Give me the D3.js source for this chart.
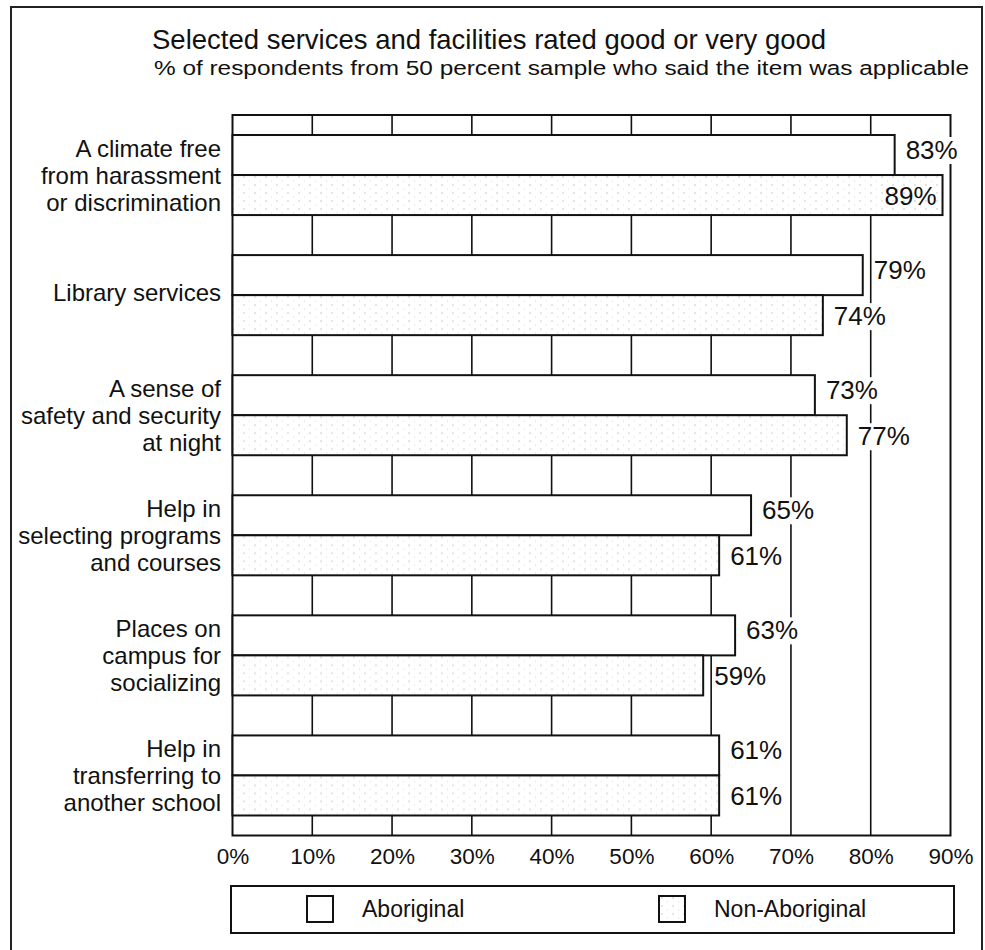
<!doctype html>
<html>
<head>
<meta charset="utf-8">
<title>Services and facilities</title>
<script src="https://cdn.jsdelivr.net/npm/d3@7"></script>
<style>
body { margin: 0; background: #fff; }
svg { display: block; font-family: "Liberation Sans", Arial, sans-serif; }
</style>
</head>
<body>
<div id="chart"></div>
<script>
// values
var categories = [
  "A climate free|from harassment|or discrimination",
  "Library services",
  "A sense of|safety and security|at night",
  "Help in|selecting programs|and courses",
  "Places on|campus for|socializing",
  "Help in|transferring to|another school"
];
var seriesNames = ["Aboriginal", "Non-Aboriginal"];
var aboriginal = [83, 79, 73, 65, 63, 61];
var nonAboriginal = [89, 74, 77, 61, 59, 61];
var tickValues = [0, 10, 20, 30, 40, 50, 60, 70, 80, 90];

var width = 985, height = 950;
var plotLeft = 232.5, plotRight = 950.5, plotTop = 115, plotBottom = 835.5;

var svg = d3.select("#chart").append("svg")
  .attr("width", width).attr("height", height);

// light dotted fill for the second series
var defs = svg.append("defs");
var pat = defs.append("pattern").attr("id", "dots")
  .attr("patternUnits", "userSpaceOnUse").attr("width", 11).attr("height", 8);
pat.append("rect").attr("width", 11).attr("height", 8).attr("fill", "#fff");
pat.append("circle").attr("cx", 2).attr("cy", 2).attr("r", 0.8).attr("fill", "#c4c4c4");
pat.append("circle").attr("cx", 7.5).attr("cy", 6).attr("r", 0.6).attr("fill", "#d8d8d8");

var fills = ["#fff", "url(#dots)"];

// outer frame
svg.append("rect").attr("x", 11).attr("y", 7).attr("width", 971).attr("height", 960)
  .attr("fill", "none").attr("stroke", "#222").attr("stroke-width", 2);

// titles
svg.append("text").attr("x", 152).attr("y", 49)
  .attr("font-size", 27.5).attr("fill", "#111")
  .text("Selected services and facilities rated good or very good");
svg.append("text").attr("x", 154).attr("y", 75)
  .attr("font-size", 20.5).attr("fill", "#111")
  .attr("textLength", 815).attr("lengthAdjust", "spacingAndGlyphs")
  .text("% of respondents from 50 percent sample who said the item was applicable");

var x = d3.scaleLinear().domain([0, 90]).range([plotLeft, plotRight]);
var y = d3.scaleBand().domain(d3.range(categories.length)).range([plotTop, plotBottom])
  .paddingInner(1 / 3).paddingOuter(1 / 6);
var y1 = d3.scaleBand().domain(seriesNames).range([0, y.bandwidth()]);

// grid lines
svg.append("g").selectAll("line")
  .data(tickValues.slice(1, -1))
  .enter().append("line")
  .attr("x1", function(d) { return x(d); }).attr("x2", function(d) { return x(d); })
  .attr("y1", plotTop).attr("y2", plotBottom)
  .attr("stroke", "#111").attr("stroke-width", 1.6);

// plot frame
svg.append("rect").attr("x", plotLeft).attr("y", plotTop)
  .attr("width", plotRight - plotLeft).attr("height", plotBottom - plotTop)
  .attr("fill", "none").attr("stroke", "#111").attr("stroke-width", 2);

// bars
var rows = categories.map(function(c, i) {
  return { i: i, vals: [aboriginal[i], nonAboriginal[i]] };
});

var groups = svg.append("g").selectAll("g")
  .data(rows).enter().append("g")
  .attr("transform", function(d) { return "translate(0," + y(d.i) + ")"; });

groups.selectAll("rect")
  .data(function(d) { return d.vals.map(function(v, k) { return { v: v, k: k }; }); })
  .enter().append("rect")
  .attr("x", x(0))
  .attr("y", function(d) { return y1(seriesNames[d.k]); })
  .attr("width", function(d) { return x(d.v) - x(0); })
  .attr("height", y1.bandwidth())
  .attr("fill", function(d) { return fills[d.k]; })
  .attr("stroke", "#111").attr("stroke-width", 2);

// value labels, with a white knockout behind them
var labelSize = 26;
var labelDy = [4, 10];
groups.each(function(d) {
  var g = d3.select(this);
  d.vals.forEach(function(v, k) {
    var cy = y1(seriesNames[k]) + y1.bandwidth() / 2;
    var base = cy + labelDy[k];
    var inside = x(v) + 12 + 52 > 982;
    var t = g.append("text")
      .attr("font-size", labelSize).attr("fill", "#111")
      .attr("y", base)
      .attr("x", inside ? x(v) - 6 : x(v) + 11)
      .attr("text-anchor", inside ? "end" : "start")
      .text(v + "%");
    if (!inside) {
      var bb = t.node().getBBox();
      g.insert("rect", "text")
        .attr("x", bb.x - 1).attr("y", base - 22)
        .attr("width", bb.width + 2).attr("height", 27)
        .attr("fill", "#fff");
    }
  });
});

// category labels
var lineH = 27;
svg.append("g").selectAll("text")
  .data(categories).enter().append("text")
  .attr("text-anchor", "end").attr("font-size", 24).attr("fill", "#111")
  .each(function(c, i) {
    var lines = c.split("|");
    var cy = y(i) + y.bandwidth() / 2;
    var off = lines.length > 1 ? 8.5 : 6;
    var t = d3.select(this);
    lines.forEach(function(s, j) {
      t.append("tspan").attr("x", 221)
        .attr("y", cy + off + (j - (lines.length - 1) / 2) * lineH)
        .text(s);
    });
  });

// x axis
var axis = svg.append("g").attr("transform", "translate(0," + plotBottom + ")")
  .call(d3.axisBottom(x).tickValues(tickValues).tickSize(0).tickPadding(0)
    .tickFormat(function(d) { return d + "%"; }));
axis.select(".domain").remove();
axis.selectAll("text")
  .attr("font-family", "Liberation Sans, Arial, sans-serif")
  .attr("font-size", 22.5).attr("fill", "#111")
  .attr("dy", null).attr("y", 28.5);

// legend
var legend = svg.append("g");
legend.append("rect").attr("x", 231).attr("y", 886).attr("width", 723).attr("height", 47)
  .attr("fill", "#fff").attr("stroke", "#111").attr("stroke-width", 2);
var legX = [307, 659];
seriesNames.forEach(function(name, k) {
  legend.append("rect").attr("x", legX[k]).attr("y", 896).attr("width", 26).attr("height", 26)
    .attr("fill", fills[k]).attr("stroke", "#111").attr("stroke-width", 2);
  legend.append("text").attr("x", legX[k] + 55).attr("y", 917)
    .attr("font-size", 23).attr("fill", "#111").text(name);
});
</script>
</body>
</html>
